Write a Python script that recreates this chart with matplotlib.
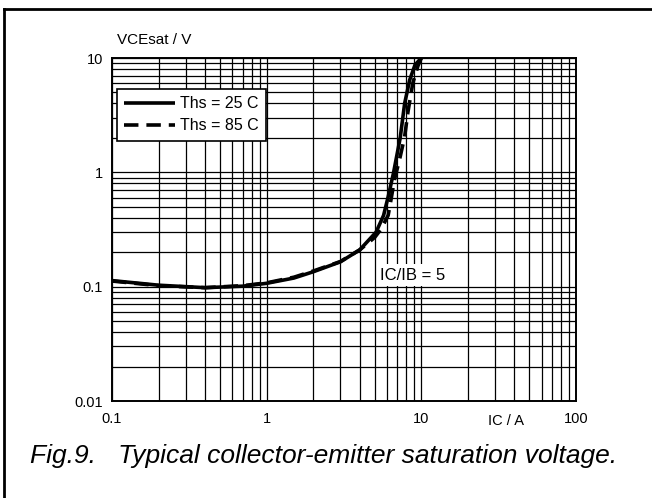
import matplotlib
matplotlib.use("Agg")
import matplotlib.pyplot as plt
from matplotlib.lines import Line2D
from matplotlib.ticker import LogLocator, NullFormatter, FixedLocator, FixedFormatter

plt.rcParams['font.family'] = ['Liberation Sans', 'DejaVu Sans']

# Data
ic_25 = [0.1, 0.2, 0.4, 0.7, 1.0, 1.5, 2.0, 3.0, 4.0, 5.1, 5.7, 6.1, 6.6, 7.3, 7.8, 8.4, 9.1, 10.0]
vce_25 = [0.113, 0.103, 0.098, 0.101, 0.107, 0.119, 0.135, 0.165, 0.21, 0.30, 0.42, 0.61, 0.98, 2.0, 4.0, 6.4, 8.7, 10.0]

ic_85 = [0.1, 0.2, 0.4, 0.7, 1.0, 1.5, 2.0, 3.0, 4.0, 5.0, 5.5, 6.1, 6.25, 6.7, 7.3, 7.8, 8.2, 8.8, 9.5, 10.0]
vce_85 = [0.112, 0.102, 0.098, 0.102, 0.108, 0.121, 0.137, 0.166, 0.21, 0.27, 0.32, 0.42, 0.50, 0.86, 1.37, 2.05, 3.4, 6.0, 8.5, 10.0]

series_labels = ["Ths = 25 C", "Ths = 85 C"]
x_ticks = [0.1, 1, 10, 100]
x_ticklabels = ["0.1", "1", "10", "100"]
y_ticks = [0.01, 0.1, 1, 10]
y_ticklabels = ["0.01", "0.1", "1", "10"]

W, H = 652, 498
fig = plt.figure(figsize=(W / 100, H / 100), dpi=100)
ax = fig.add_axes([112 / W, 1 - 401 / H, (576 - 112) / W, (401 - 58) / H])

ax.set_xscale('log')
ax.set_yscale('log')
ax.set_xlim(0.1, 100)
ax.set_ylim(0.01, 10)

ax.plot(ic_25, vce_25, color='black', lw=2.6, solid_capstyle='butt', label=series_labels[0], zorder=5)
ax.plot(ic_85, vce_85, color='black', lw=2.6, dashes=[4, 2.2], label=series_labels[1], zorder=5)

ax.xaxis.set_major_locator(FixedLocator(x_ticks))
ax.xaxis.set_major_formatter(FixedFormatter(x_ticklabels))
ax.yaxis.set_major_locator(FixedLocator(y_ticks))
ax.yaxis.set_major_formatter(FixedFormatter(y_ticklabels))
ax.xaxis.set_minor_locator(LogLocator(base=10, subs=range(2, 10)))
ax.yaxis.set_minor_locator(LogLocator(base=10, subs=range(2, 10)))
ax.xaxis.set_minor_formatter(NullFormatter())
ax.yaxis.set_minor_formatter(NullFormatter())

ax.grid(True, which='both', color='black', lw=0.9)
ax.tick_params(which='both', length=0)
ax.tick_params(axis='x', pad=8, labelsize=10.5)
ax.tick_params(axis='y', pad=6.5, labelsize=10.5)
for s in ax.spines.values():
    s.set_linewidth(1.4)
    s.set_color('black')

leg = ax.legend(loc='upper left', bbox_to_anchor=((117 - 112) / 464, (401 - 89) / 343),
                borderaxespad=0, fancybox=False, framealpha=1, edgecolor='black',
                fontsize=11.5, handlelength=3.2, handletextpad=0.3, labelspacing=0.45,
                borderpad=0.45)
leg.get_frame().set_linewidth(1.2)
leg.set_zorder(10)

ax.text((380 - 112) / 464, (401 - 275) / 343, "IC/IB = 5", transform=ax.transAxes,
        fontsize=12, va='center', ha='left', zorder=8,
        bbox=dict(facecolor='white', edgecolor='none', pad=2.5))

fig.text(117 / W, 1 - 44 / H, "VCEsat / V", fontsize=11, ha='left', va='baseline')
fig.text(506 / W, 1 - 421 / H, "IC / A", fontsize=10.5, ha='center', va='center')
fig.text(30 / W, 1 - 463 / H, "Fig.9.   Typical collector-emitter saturation voltage.",
         fontsize=19, style='italic', ha='left', va='baseline')

# page frame (left and top edges)
fig.add_artist(Line2D([4 / W, 4 / W], [0, 1 - 9 / H], color='black', lw=2, transform=fig.transFigure))
fig.add_artist(Line2D([4 / W, 1], [1 - 9 / H, 1 - 9 / H], color='black', lw=2, transform=fig.transFigure))

fig.savefig("out.png", dpi=100)
